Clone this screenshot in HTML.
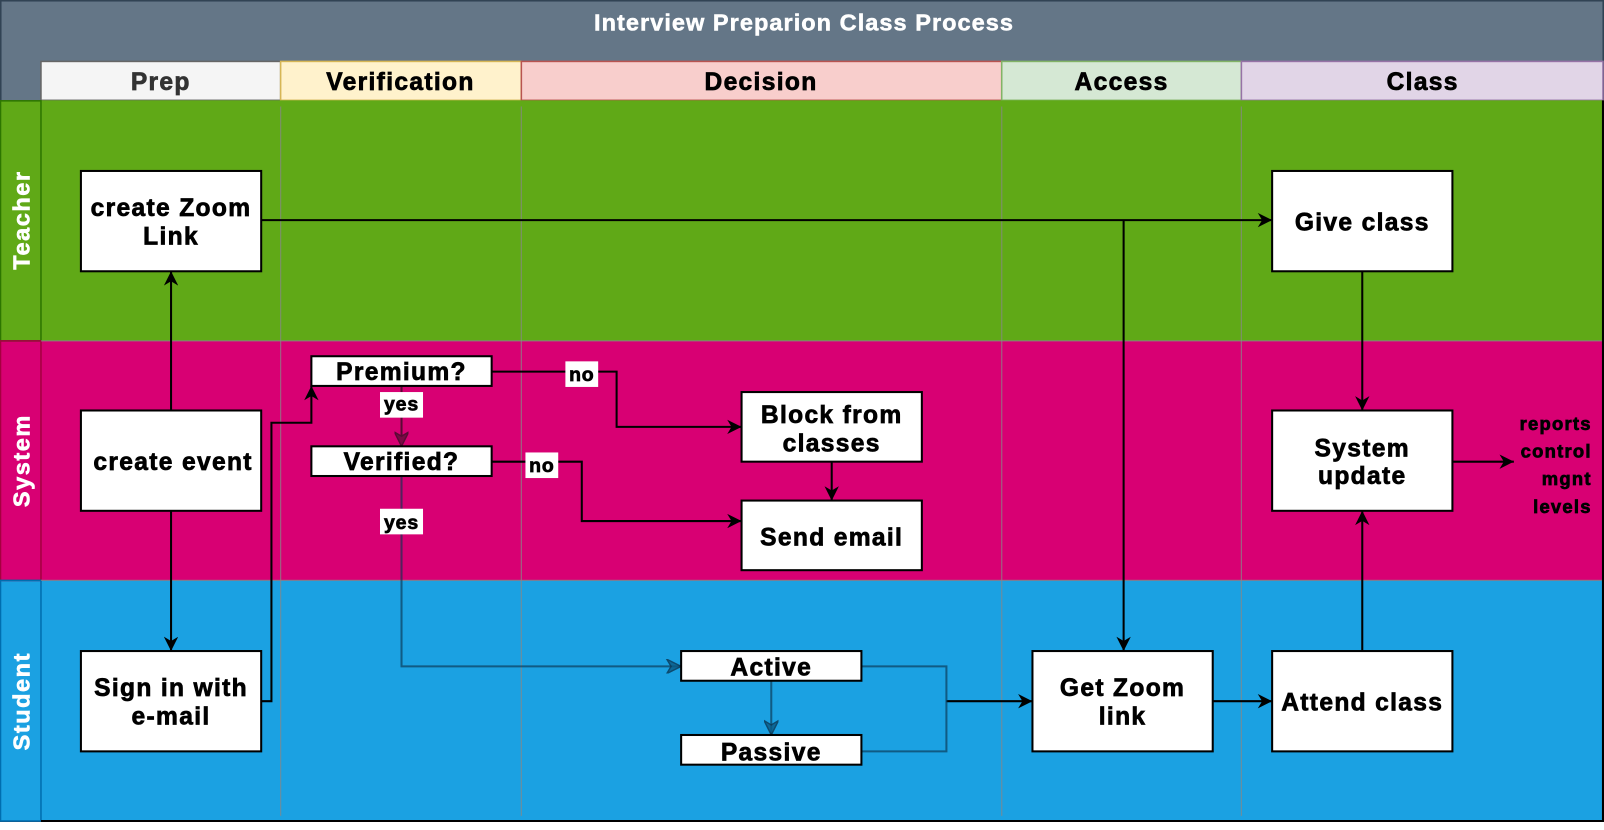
<!DOCTYPE html>
<html><head><meta charset="utf-8"><style>
html,body{margin:0;padding:0;background:#fff;width:1604px;height:830px;overflow:hidden}
svg{display:block}
text{font-family:"Liberation Sans",Arial,sans-serif;font-weight:bold}
.t{stroke:#000;stroke-width:0.7}
</style></head><body>
<svg width="1604" height="822" viewBox="0 0 1566 803" preserveAspectRatio="none" xmlns="http://www.w3.org/2000/svg">
<defs>
<marker id="a" viewBox="0 0 10 10" refX="10" refY="5" markerWidth="17" markerHeight="14" orient="auto" markerUnits="userSpaceOnUse"><path d="M0,0 L10,5 L0,10 L3,5 z" fill="#000"/></marker>
<marker id="ab" viewBox="0 0 10 10" refX="10" refY="5" markerWidth="17" markerHeight="14" orient="auto" markerUnits="userSpaceOnUse"><path d="M0,0 L10,5 L0,10 L3,5 z" fill="#0a5a85" stroke="#0a3552" stroke-width="1" opacity="0.8"/></marker>
<marker id="ap" viewBox="0 0 10 10" refX="10" refY="5" markerWidth="17" markerHeight="14" orient="auto" markerUnits="userSpaceOnUse"><path d="M0,0 L10,5 L0,10 L3,5 z" fill="#7a0a45" stroke="#5a0a35"/></marker>
</defs>
<rect x="0.5" y="0.5" width="1565" height="802" fill="#647687" stroke="#314354" stroke-width="2"/>
<text x="785" y="30" font-size="23" fill="#fff" text-anchor="middle" letter-spacing="1" stroke="#fff" stroke-width="0.5">Interview Preparion Class Process</text>
<rect x="40" y="60" width="234" height="38" fill="#f5f5f5" stroke="#666" stroke-width="1.5"/>
<rect x="274" y="60" width="235" height="38" fill="#fff2cc" stroke="#d6b656" stroke-width="1.5"/>
<rect x="509" y="60" width="469" height="38" fill="#f8cecc" stroke="#b85450" stroke-width="1.5"/>
<rect x="978" y="60" width="234" height="38" fill="#d5e8d4" stroke="#82b366" stroke-width="1.5"/>
<rect x="1212" y="60" width="353" height="38" fill="#e1d5e7" stroke="#9673a6" stroke-width="1.5"/>
<g font-size="24" text-anchor="middle" letter-spacing="1.3" class="t">
<text x="157" y="88" fill="#333" stroke="#333">Prep</text>
<text x="391" y="88">Verification</text>
<text x="743" y="88">Decision</text>
<text x="1095" y="88">Access</text>
<text x="1389" y="88">Class</text>
</g>
<rect x="0" y="98" width="1565" height="235" fill="#60a917"/>
<rect x="0" y="333" width="1565" height="234" fill="#d80073"/>
<rect x="0" y="567" width="1565" height="235" fill="#1ba1e2"/>
<rect x="0.5" y="98.5" width="39.5" height="234.5" fill="none" stroke="#2d7600" stroke-width="1.5"/>
<rect x="0.5" y="333" width="39.5" height="234" fill="none" stroke="#a50040" stroke-width="1.5"/>
<rect x="0.5" y="567" width="39.5" height="235" fill="none" stroke="#006eaf" stroke-width="1.5"/>
<g stroke="#888" stroke-opacity="0.7" stroke-width="1.2">
<line x1="40" y1="333" x2="1565" y2="333"/><line x1="40" y1="567" x2="1565" y2="567"/>
<line x1="274" y1="104" x2="274" y2="797"/><line x1="509" y1="104" x2="509" y2="797"/>
<line x1="978" y1="104" x2="978" y2="797"/><line x1="1212" y1="104" x2="1212" y2="797"/>
</g>
<line x1="40" y1="802" x2="1565" y2="802" stroke="#000" stroke-width="2"/>
<line x1="1565" y1="98" x2="1565" y2="803" stroke="#000" stroke-width="2"/>
<g font-size="23" fill="#fff" stroke="#fff" stroke-width="0.6" text-anchor="middle" letter-spacing="1.5">
<text transform="translate(29,215) rotate(-90)">Teacher</text>
<text transform="translate(29,450) rotate(-90)">System</text>
<text transform="translate(29,685) rotate(-90)">Student</text>
</g>
<g fill="none" stroke="#000" stroke-width="2">
<path d="M167,401 V265" marker-end="url(#a)"/>
<path d="M167,499 V636" marker-end="url(#a)"/>
<path d="M255,685 H265 V413 H304 V377" marker-end="url(#a)"/>
<path d="M480,363 H602 V417 H724" marker-end="url(#a)"/>
<path d="M480,451 H568 V509 H724" marker-end="url(#a)"/>
<path d="M812,451 V489" marker-end="url(#a)"/>
<path d="M924,685 H1008" marker-end="url(#a)"/>
<path d="M255,215 H1242" marker-end="url(#a)"/>
<path d="M1097,215 V636" marker-end="url(#a)"/>
<path d="M1330,265 V401" marker-end="url(#a)"/>
<path d="M1330,636 V499" marker-end="url(#a)"/>
<path d="M1184,685 H1242" marker-end="url(#a)"/>
<path d="M1418,451 H1478" marker-end="url(#a)"/>
</g>
<path d="M392,377 V436" stroke="#5a0a35" stroke-width="2" fill="none" marker-end="url(#ap)"/>
<g fill="none" stroke="#0a3552" stroke-opacity="0.65" stroke-width="2">
<path d="M392,465 V651 H665" marker-end="url(#ab)"/>
<path d="M753,665 V718" marker-end="url(#ab)"/>
<path d="M841,651 H924 V734 H841"/>
</g>
<g font-size="19" text-anchor="middle" letter-spacing="0.8" class="t">
<rect x="552" y="353" width="32" height="25" fill="#fff" stroke="none"/><text x="568" y="372">no</text>
<rect x="513" y="442" width="32" height="25" fill="#fff" stroke="none"/><text x="529" y="461">no</text>
<rect x="371" y="383" width="42" height="25" fill="#fff" stroke="none"/><text x="392" y="401">yes</text>
<rect x="371" y="497" width="42" height="25" fill="#fff" stroke="none"/><text x="392" y="517">yes</text>
</g>
<g fill="#fff" stroke="#000" stroke-width="2">
<rect x="79" y="167" width="176" height="98"/>
<rect x="79" y="401" width="176" height="98"/>
<rect x="79" y="636" width="176" height="98"/>
<rect x="304" y="348" width="176" height="29"/>
<rect x="304" y="436" width="176" height="29"/>
<rect x="724" y="383" width="176" height="68"/>
<rect x="724" y="489" width="176" height="68"/>
<rect x="665" y="636" width="176" height="29"/>
<rect x="665" y="718" width="176" height="29"/>
<rect x="1008" y="636" width="176" height="98"/>
<rect x="1242" y="167" width="176" height="98"/>
<rect x="1242" y="401" width="176" height="98"/>
<rect x="1242" y="636" width="176" height="98"/>
</g>
<g font-size="24" text-anchor="middle" letter-spacing="1.3" class="t">
<text x="167" y="211">create Zoom</text><text x="167" y="239">Link</text>
<text x="169" y="459">create event</text>
<text x="167" y="680">Sign in with</text><text x="167" y="708">e-mail</text>
<text x="392" y="371">Premium?</text>
<text x="392" y="459">Verified?</text>
<text x="812" y="413">Block from</text><text x="812" y="441">classes</text>
<text x="812" y="533">Send email</text>
<text x="753" y="660">Active</text>
<text x="753" y="743">Passive</text>
<text x="1096" y="680">Get Zoom</text><text x="1096" y="708">link</text>
<text x="1330" y="225">Give class</text>
<text x="1330" y="446">System</text><text x="1330" y="473">update</text>
<text x="1330" y="694">Attend class</text>
</g>
<g font-size="18" text-anchor="end" letter-spacing="1.2" class="t">
<text x="1554" y="420">reports</text>
<text x="1554" y="447">control</text>
<text x="1554" y="474">mgnt</text>
<text x="1554" y="501">levels</text>
</g>
</svg>
</body></html>
